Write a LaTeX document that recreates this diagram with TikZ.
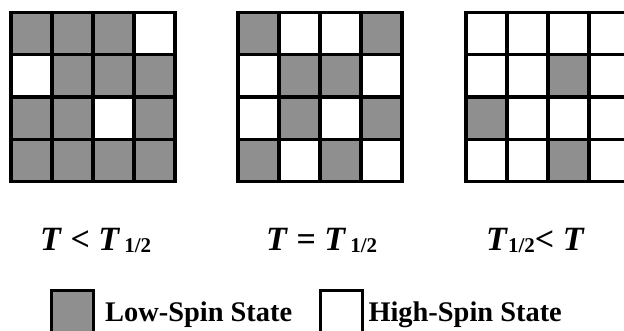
\documentclass[tikz,border=0pt]{standalone}
\usepackage{fontspec}
\setmainfont{Liberation Serif}
\usepackage{tikz}
\usepackage{xcolor}
\definecolor{lsgray}{RGB}{143,143,143}
\newcommand{\halfsub}{\raisebox{-2.4pt}{\fontsize{21}{21}\selectfont 1/2}}
\tikzset{
  ls/.style={fill=lsgray, draw=black, line width=3.2pt},
  hs/.style={fill=white, draw=black, line width=3.2pt},
  tlabel/.style={anchor=base west, inner sep=0pt, font=\fontsize{34}{34}\selectfont\bfseries},
  keytext/.style={anchor=base west, inner sep=0pt, font=\fontsize{28.4}{28.4}\selectfont\bfseries},
  keybox/.style={minimum width=41.6pt, minimum height=42pt, inner sep=0pt, line width=3pt, draw=black}
}
\begin{document}
\begin{tikzpicture}[x=1pt,y=-1pt]
\useasboundingbox (0,0) rectangle (624,331);
\clip (0,0) rectangle (624,331);
% T < T_1/2
\filldraw[ls] (11,12.5) rectangle (52,54.8);
\filldraw[ls] (52,12.5) rectangle (93,54.8);
\filldraw[ls] (93,12.5) rectangle (134,54.8);
\filldraw[hs] (134,12.5) rectangle (175,54.8);
\filldraw[hs] (11,54.8) rectangle (52,97.1);
\filldraw[ls] (52,54.8) rectangle (93,97.1);
\filldraw[ls] (93,54.8) rectangle (134,97.1);
\filldraw[ls] (134,54.8) rectangle (175,97.1);
\filldraw[ls] (11,97.1) rectangle (52,139.4);
\filldraw[ls] (52,97.1) rectangle (93,139.4);
\filldraw[hs] (93,97.1) rectangle (134,139.4);
\filldraw[ls] (134,97.1) rectangle (175,139.4);
\filldraw[ls] (11,139.4) rectangle (52,181.7);
\filldraw[ls] (52,139.4) rectangle (93,181.7);
\filldraw[ls] (93,139.4) rectangle (134,181.7);
\filldraw[ls] (134,139.4) rectangle (175,181.7);
% T = T_1/2
\filldraw[ls] (238,12.5) rectangle (279,54.8);
\filldraw[hs] (279,12.5) rectangle (320,54.8);
\filldraw[hs] (320,12.5) rectangle (361,54.8);
\filldraw[ls] (361,12.5) rectangle (402,54.8);
\filldraw[hs] (238,54.8) rectangle (279,97.1);
\filldraw[ls] (279,54.8) rectangle (320,97.1);
\filldraw[ls] (320,54.8) rectangle (361,97.1);
\filldraw[hs] (361,54.8) rectangle (402,97.1);
\filldraw[hs] (238,97.1) rectangle (279,139.4);
\filldraw[ls] (279,97.1) rectangle (320,139.4);
\filldraw[hs] (320,97.1) rectangle (361,139.4);
\filldraw[ls] (361,97.1) rectangle (402,139.4);
\filldraw[ls] (238,139.4) rectangle (279,181.7);
\filldraw[hs] (279,139.4) rectangle (320,181.7);
\filldraw[ls] (320,139.4) rectangle (361,181.7);
\filldraw[hs] (361,139.4) rectangle (402,181.7);
% T_1/2 < T
\filldraw[hs] (466,12.5) rectangle (507,54.8);
\filldraw[hs] (507,12.5) rectangle (548,54.8);
\filldraw[hs] (548,12.5) rectangle (589,54.8);
\filldraw[hs] (589,12.5) rectangle (630,54.8);
\filldraw[hs] (466,54.8) rectangle (507,97.1);
\filldraw[hs] (507,54.8) rectangle (548,97.1);
\filldraw[ls] (548,54.8) rectangle (589,97.1);
\filldraw[hs] (589,54.8) rectangle (630,97.1);
\filldraw[ls] (466,97.1) rectangle (507,139.4);
\filldraw[hs] (507,97.1) rectangle (548,139.4);
\filldraw[hs] (548,97.1) rectangle (589,139.4);
\filldraw[hs] (589,97.1) rectangle (630,139.4);
\filldraw[hs] (466,139.4) rectangle (507,181.7);
\filldraw[hs] (507,139.4) rectangle (548,181.7);
\filldraw[ls] (548,139.4) rectangle (589,181.7);
\filldraw[hs] (589,139.4) rectangle (630,181.7);
% labels
\node[tlabel] (below) at (40,250.5) {\textit{T} < \textit{T}\hspace{4pt}\halfsub};
\node[tlabel] (equal) at (266,250.5) {\textit{T} = \textit{T}\hspace{4pt}\halfsub};
\node[tlabel] (above) at (486,250.5) {\textit{T}\halfsub< \textit{T}};
% legend
\node[keybox, fill=lsgray] (lskey) at (72.5,311.7) {};
\node[keytext] (lstext) at (105,321.7) {Low-Spin State};
\node[keybox, fill=white] (hskey) at (341.7,311.7) {};
\node[keytext] (hstext) at (368.3,321.7) {High-Spin State};
\end{tikzpicture}
\end{document}
